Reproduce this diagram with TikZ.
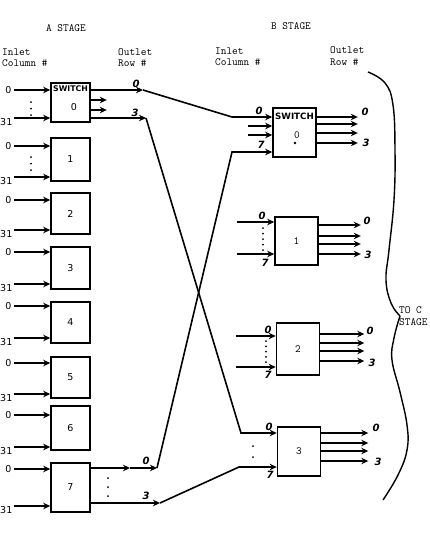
\documentclass[tikz,border=0pt]{standalone}
\usepackage{fontspec}
\setsansfont{DejaVu Sans}
\usepackage{tikz}
\usetikzlibrary{arrows.meta, positioning, calc}
\tikzset{
	asw/.style={rectangle, draw, line width=1.6pt, inner sep=0pt, minimum width=39pt, minimum height=41pt, font=\sffamily\fontsize{9.5}{10}\selectfont},
	bsw/.style={rectangle, draw, line width=1.6pt, inner sep=0pt, minimum width=43pt, minimum height=49pt, font=\ttfamily\fontsize{11}{11}\selectfont},
	arr/.style={line width=1.6pt, -{Stealth[length=7pt, width=6.5pt]}},
	inl/.style={inner sep=0pt, font=\sffamily\fontsize{9.5}{10}\selectfont},
	hand/.style={inner sep=0pt, font=\sffamily\bfseries\itshape\fontsize{10}{10}\selectfont},
	hdr/.style={inner sep=0pt, align=left, font=\ttfamily\fontsize{11}{11.5}\selectfont},
	swlbl/.style={inner sep=0pt, font=\sffamily\bfseries\fontsize{#1}{#1}\selectfont},
	ellip/.style={line width=2pt, line cap=round, dash pattern=on 0pt off #1},
	bracecurve/.style={line width=1.4pt}
}
\begin{document}
\begin{tikzpicture}[x=1pt, y=-1pt]
	\useasboundingbox (0,0) rectangle (429,533);
	% headings
	\node[hdr] (astage) at (66,28) {A STAGE};
	\node[hdr] (bstage) at (291,26) {B STAGE};
	\node[hdr, anchor=west] (ainlet) at (2,57.5) {Inlet\\Column \#};
	\node[hdr, anchor=west] (aoutlet) at (118,57.5) {Outlet\\Row \#};
	\node[hdr, anchor=west] (binlet) at (215,56.5) {Inlet\\Column \#};
	\node[hdr, anchor=west] (boutlet) at (330,56) {Outlet\\Row \#};

	% A stage
	\node[asw, minimum height=39pt] (A0) at (70.5,102.5) {};
	\node[swlbl=7.8] (A0sw) at (70.5,89) {SWITCH};
	\node[inl] (A0num) at (74,107) {0};
	\node[asw, minimum height=43pt] (A1) at (70.5,159.5) {1};
	\node[asw, minimum height=41pt] (A2) at (70.5,213.5) {2};
	\node[asw, minimum height=42pt] (A3) at (70.5,268) {3};
	\node[asw, minimum height=41pt] (A4) at (70.5,322.5) {4};
	\node[asw, minimum height=41pt] (A5) at (70.5,377.5) {5};
	\node[asw, minimum height=44pt] (A6) at (70.5,428) {6};
	\node[asw, minimum height=49pt] (A7) at (70.5,487.5) {7};

	% A stage inlets
	\coordinate (a0t) at (14,90); \coordinate (a0b) at (14,118);
	\node[inl, left=2.5pt of a0t] (a0t0) {0}; \node[inl, below left=0pt and 1.5pt of a0b] (a0b31) {31};
	\draw[arr] (a0t) -- (a0t -| A0.west); \draw[arr] (a0b) -- (a0b -| A0.west);
	\draw[ellip=6.5pt] (31,102) -- (31,115.3);
	\coordinate (a1t) at (14,146); \coordinate (a1b) at (14,177);
	\node[inl, left=2.5pt of a1t] (a1t0) {0}; \node[inl, below left=0pt and 1.5pt of a1b] (a1b31) {31};
	\draw[arr] (a1t) -- (a1t -| A1.west); \draw[arr] (a1b) -- (a1b -| A1.west);
	\draw[ellip=6.5pt] (31,157) -- (31,170.3);
	\coordinate (a2t) at (14,200); \coordinate (a2b) at (14,230);
	\node[inl, left=2.5pt of a2t] (a2t0) {0}; \node[inl, below left=0pt and 1.5pt of a2b] (a2b31) {31};
	\draw[arr] (a2t) -- (a2t -| A2.west); \draw[arr] (a2b) -- (a2b -| A2.west);
	\coordinate (a3t) at (14,252); \coordinate (a3b) at (14,284);
	\node[inl, left=2.5pt of a3t] (a3t0) {0}; \node[inl, below left=0pt and 1.5pt of a3b] (a3b31) {31};
	\draw[arr] (a3t) -- (a3t -| A3.west); \draw[arr] (a3b) -- (a3b -| A3.west);
	\coordinate (a4t) at (14,306); \coordinate (a4b) at (14,338);
	\node[inl, left=2.5pt of a4t] (a4t0) {0}; \node[inl, below left=0pt and 1.5pt of a4b] (a4b31) {31};
	\draw[arr] (a4t) -- (a4t -| A4.west); \draw[arr] (a4b) -- (a4b -| A4.west);
	\coordinate (a5t) at (14,363); \coordinate (a5b) at (14,394);
	\node[inl, left=2.5pt of a5t] (a5t0) {0}; \node[inl, below left=0pt and 1.5pt of a5b] (a5b31) {31};
	\draw[arr] (a5t) -- (a5t -| A5.west); \draw[arr] (a5b) -- (a5b -| A5.west);
	\coordinate (a6t) at (14,415); \coordinate (a6b) at (14,447);
	\node[inl, left=2.5pt of a6t] (a6t0) {0}; \node[inl, below left=0pt and 1.5pt of a6b] (a6b31) {31};
	\draw[arr] (a6t) -- (a6t -| A6.west); \draw[arr] (a6b) -- (a6b -| A6.west);
	\coordinate (a7t) at (14,469); \coordinate (a7b) at (14,506);
	\node[inl, left=2.5pt of a7t] (a7t0) {0}; \node[inl, below left=0pt and 1.5pt of a7b] (a7b31) {31};
	\draw[arr] (a7t) -- (a7t -| A7.west); \draw[arr] (a7b) -- (a7b -| A7.west);

	% A stage outlets
	\coordinate (a0o0) at (143,90); \coordinate (a0o3) at (146,118);
	\draw[arr] (A0.east |- a0o0) -- (a0o0);
	\draw[arr] ([yshift=2.5pt]A0.east) -- ++(16,0);
	\draw[arr] ([yshift=-7.5pt]A0.east) -- ++(16,0);
	\draw[arr] (A0.east |- a0o3) -- (a0o3);
	\node[hand] (a0l0) at (136,84) {0}; \node[hand] (a0l3) at (135,113) {3};
	\coordinate (a7mid) at (130,468); \coordinate (a7o0) at (157,468); \coordinate (a7o3) at (160,503);
	\draw[arr] (A7.east |- a7o0) -- (a7mid);
	\draw[arr] (a7mid) -- (a7o0);
	\draw[arr] (A7.east |- a7o3) -- (a7o3);
	\draw[ellip=9pt] (108,478) -- (108,496.3);
	\node[hand] (a7l0) at (146,461) {0}; \node[hand] (a7l3) at (146,496) {3};

	% B stage
	\node[bsw] (B0) at (294.5,132.5) {};
	\node[swlbl=8.7] (B0sw) at (294.5,116) {SWITCH};
	\node[hdr] (B0num) at (297,135) {0};
	\node[circle, fill, inner sep=0pt, minimum size=2.6pt] (B0dot) at (295,143) {};
	\node[bsw, minimum height=48pt] (B1) at (296.5,241) {1};
	\node[bsw, minimum height=52pt] (B2) at (298,349) {2};
	\node[bsw] (B3) at (299,451.5) {3};

	% links A -> B
	\coordinate (b0i0) at (232,117); \coordinate (b0i7) at (232,152);
	\coordinate (b3i0) at (241,433); \coordinate (b3i7) at (239,467);
	\draw[arr] (a0o0) -- (b0i0) -- (B0.west |- b0i0);
	\draw[arr] (a7o0) -- (b0i7) -- (B0.west |- b0i7);
	\draw[arr] (a0o3) -- (b3i0) -- (B3.west |- b3i0);
	\draw[arr] (a7o3) -- (b3i7) -- (B3.west |- b3i7);

	% B stage inlets
	\draw[arr] ([xshift=-24pt, yshift=6.5pt]B0.west) -- ++(24,0);
	\draw[arr] ([xshift=-24pt, yshift=-2.5pt]B0.west) -- ++(24,0);
	\node[hand] (b0l0) at (259,111) {0}; \node[hand] (b0l7) at (261,145) {7};
	\coordinate (b1i0) at (237,222); \coordinate (b1i7) at (237,254);
	\draw[arr] (b1i0) -- (B1.west |- b1i0); \draw[arr] (b1i7) -- (B1.west |- b1i7);
	\draw[ellip=5.5pt] (263,228) -- (263,250.3);
	\node[hand] (b1l0) at (262,216) {0}; \node[hand] (b1l7) at (265,263) {7};
	\coordinate (b2i0) at (236,336); \coordinate (b2i7) at (236,367);
	\draw[arr] (b2i0) -- (B2.west |- b2i0); \draw[arr] (b2i7) -- (B2.west |- b2i7);
	\draw[ellip=5.25pt] (266,341) -- (266,362.3);
	\node[hand] (b2l0) at (268,330) {0}; \node[hand] (b2l7) at (268,375) {7};
	\draw[ellip=11pt] (253,446) -- (253,457.3);
	\node[hand] (b3l0) at (269,427) {0}; \node[hand] (b3l7) at (270,475) {7};

	% B stage outlets
	\draw[arr] ([yshift=15.5pt]B0.east) -- ++(41,0); \draw[arr] ([yshift=8.5pt]B0.east) -- ++(41,0);
	\draw[arr] ([yshift=-0.5pt]B0.east) -- ++(41,0); \draw[arr] ([yshift=-10.5pt]B0.east) -- ++(41,0);
	\node[hand] (b0o0) at (365,112) {0}; \node[hand] (b0o3) at (366,143) {3};
	\draw[arr] ([yshift=16pt]B1.east) -- ++(42,0); \draw[arr] ([yshift=5pt]B1.east) -- ++(42,0);
	\draw[arr] ([yshift=-3pt]B1.east) -- ++(42,0); \draw[arr] ([yshift=-13pt]B1.east) -- ++(42,0);
	\node[hand] (b1o0) at (367,221) {0}; \node[hand] (b1o3) at (368,255) {3};
	\draw[arr] ([yshift=15pt]B2.east) -- ++(44,0); \draw[arr] ([yshift=6pt]B2.east) -- ++(44,0);
	\draw[arr] ([yshift=-2pt]B2.east) -- ++(44,0); \draw[arr] ([yshift=-12pt]B2.east) -- ++(44,0);
	\node[hand] (b2o0) at (370,331) {0}; \node[hand] (b2o3) at (372,363) {3};
	\draw[arr] ([yshift=18.5pt]B3.east) -- ++(47,0); \draw[arr] ([yshift=8.5pt]B3.east) -- ++(47,0);
	\draw[arr] ([yshift=0.5pt]B3.east) -- ++(47,0); \draw[arr] ([yshift=-9.5pt]B3.east) -- ++(47,0);
	\node[hand] (b3o0) at (376,428) {0}; \node[hand] (b3o3) at (378,462) {3};

	% to C stage
	\draw[bracecurve] plot[smooth, tension=0.7] coordinates {(368,72) (385,83) (393,105) (395,150) (394,200) (389,250) (386,280) (391,303) (400,316)};
	\draw[bracecurve] plot[smooth, tension=0.7] coordinates {(400,316) (394,338) (392,360) (400,392) (407,425) (407,450) (398,475) (383,500)};
	\node[hdr, anchor=west] (toc) at (399,316) {TO C\\STAGE};
\end{tikzpicture}
\end{document}
